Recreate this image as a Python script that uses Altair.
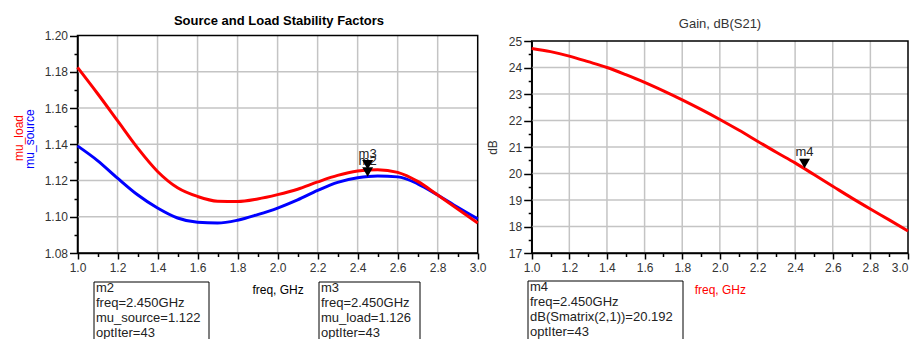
import altair as alt
import pandas as pd

# ---------------- data ----------------
freq = [1.0, 1.1, 1.2, 1.3, 1.4, 1.5, 1.6, 1.7, 1.8, 1.9, 2.0,
        2.1, 2.2, 2.3, 2.4, 2.5, 2.6, 2.7, 2.8, 2.9, 3.0]
mu_load = [1.1824, 1.1680, 1.1530, 1.1380, 1.1250, 1.1160, 1.1112, 1.1086, 1.1084, 1.1098, 1.1122,
           1.1152, 1.1192, 1.1228, 1.1252, 1.1260, 1.1245, 1.1195, 1.1120, 1.1043, 1.0965]
mu_source = [1.1391, 1.1310, 1.1213, 1.1121, 1.1048, 1.0993, 1.0969, 1.0965, 1.0981, 1.1012, 1.1048,
             1.1093, 1.1145, 1.1190, 1.1215, 1.1225, 1.1220, 1.1182, 1.1120, 1.1052, 1.0988]
gain_db = [24.72, 24.60, 24.43, 24.22, 24.00, 23.73, 23.44, 23.12, 22.78, 22.42, 22.04,
           21.64, 21.22, 20.80, 20.40, 19.96, 19.52, 19.08, 18.66, 18.25, 17.83]

marker_names_left = ["m2", "m3"]
marker_freq_left = [2.45, 2.45]
marker_vals_left = [1.122, 1.126]
marker_names_right = ["m4"]
marker_freq_right = [2.45]
marker_vals_right = [20.192]

box_m2 = ["m2", "freq=2.450GHz", "mu_source=1.122", "optIter=43"]
box_m3 = ["m3", "freq=2.450GHz", "mu_load=1.126", "optIter=43"]
box_m4 = ["m4", "freq=2.450GHz", "dB(Smatrix(2,1))=20.192", "optIter=43"]

x_major = [1.0, 1.2, 1.4, 1.6, 1.8, 2.0, 2.2, 2.4, 2.6, 2.8, 3.0]
x_minor = [1.1, 1.3, 1.5, 1.7, 1.9, 2.1, 2.3, 2.5, 2.7, 2.9]
x_grid = [1.2, 1.4, 1.6, 1.8, 2.0, 2.2, 2.4, 2.6, 2.8]
left_y_major = [1.08, 1.10, 1.12, 1.14, 1.16, 1.18, 1.20]
left_y_minor = [1.09, 1.11, 1.13, 1.15, 1.17, 1.19]
left_y_grid = [1.10, 1.12, 1.14, 1.16, 1.18]
right_y_major = [17, 18, 19, 20, 21, 22, 23, 24, 25]
right_y_minor = [17.5, 18.5, 19.5, 20.5, 21.5, 22.5, 23.5, 24.5]
right_y_grid = [18, 19, 20, 21, 22, 23, 24]

# ---------------- style ----------------
FONT = "Liberation Sans"
LBL = "#333333"
GRID = "#c4c4c4"
W, H = 902, 245

xsL = alt.Scale(domain=[1.0, 3.0], range=[69.5, 469.7], nice=False, zero=False)
ysL = alt.Scale(domain=[1.08, 1.20], range=[245, 27.5], nice=False, zero=False)
xsR = alt.Scale(domain=[1.0, 3.0], range=[523.7, 900], nice=False, zero=False)
ysR = alt.Scale(domain=[17, 25], range=[245, 33], nice=False, zero=False)


def major_x_axis(title_color, flush_last=False):
    extra = {}
    if flush_last:
        extra["labelAlign"] = {"condition": {"test": "datum.value >= 2.99", "value": "right"},
                               "value": "center"}
    return alt.Axis(
        orient="bottom", values=x_major, grid=False, format=".1f",
        tickSize=6, tickColor="black", tickWidth=1.5, domainColor="black", domainWidth=1.5,
        labelFont=FONT, labelFontSize=12, labelColor=LBL, labelPadding=3,
        labelOverlap=False, labelFlush=False,
        title="freq, GHz", titleFont=FONT, titleFontSize=12, titleFontWeight="normal",
        titleColor=title_color, titlePadding=11, **extra)


def minor_axis(orient, vals, offset):
    return alt.Axis(orient=orient, values=vals, grid=False, labels=False, domain=False,
                    tickSize=3.5, tickColor="black", tickWidth=1.5, offset=offset, title=None)


def major_y_axis(vals, fmt, offset, title):
    kw = dict(title=title, titleFont=FONT, titleFontSize=12, titleFontWeight="normal",
              titleColor=LBL, titlePadding=9) if title else dict(title=None)
    return alt.Axis(
        orient="left", values=vals, grid=False, offset=offset, format=fmt,
        tickSize=8, tickColor="black", tickWidth=1.5, domainColor="black", domainWidth=1.5,
        labelFont=FONT, labelFontSize=12, labelColor=LBL, labelPadding=2,
        labelOverlap=False, labelFlush=False, **kw)


# ---------------- tables ----------------
df_left = pd.DataFrame({"freq": freq, "mu_load": mu_load, "mu_source": mu_source})
df_right = pd.DataFrame({"freq": freq, "gain": gain_db})
vgrid = pd.DataFrame({"x": x_grid})
hgridL = pd.DataFrame({"y": left_y_grid})
hgridR = pd.DataFrame({"y": right_y_grid})
one = pd.DataFrame({"k": [0]})
mk_left = pd.DataFrame({"name": marker_names_left, "freq": marker_freq_left, "val": marker_vals_left})
mk_right = pd.DataFrame({"name": marker_names_right, "freq": marker_freq_right, "val": marker_vals_right})


def grid_layers(xs, ys, ydom, hdf, x_minor_axis, y_minor_axis):
    vg = alt.Chart(vgrid).mark_rule(color=GRID, strokeWidth=1.5).encode(
        x=alt.X("x:Q", scale=xs, axis=x_minor_axis),
        y=alt.Y(datum=ydom[0], scale=ys, axis=None),
        y2=alt.Y2(datum=ydom[1]))
    hg = alt.Chart(hdf).mark_rule(color=GRID, strokeWidth=1.5).encode(
        y=alt.Y("y:Q", scale=ys, axis=y_minor_axis),
        x=alt.X(datum=1.0, scale=xs, axis=None),
        x2=alt.X2(datum=3.0))
    return vg, hg


def frame_layer(xs, ys, ydom):
    return alt.Chart(one).mark_rect(filled=False, color="black", strokeWidth=1.5).encode(
        x=alt.X(datum=1.0, scale=xs, axis=None, type="quantitative"),
        x2=alt.X2(datum=3.0),
        y=alt.Y(datum=ydom[0], scale=ys, axis=None, type="quantitative"),
        y2=alt.Y2(datum=ydom[1]))


def pix_text(txt, x, y, **kw):
    return alt.Chart(one).mark_text(font=FONT, **kw).encode(
        x=alt.value(x), y=alt.value(y), text=alt.value(txt))


def box(lines, x0, x1, y0):
    rect = alt.Chart(one).mark_rect(filled=False, color="black", strokeWidth=1).encode(
        x=alt.value(x0), x2=alt.value(x1), y=alt.value(y0), y2=alt.value(y0 + 80))
    txt = alt.Chart(one).mark_text(font=FONT, fontSize=13, align="left", baseline="alphabetic",
                                   lineHeight=15, color="#222222").encode(
        x=alt.value(x0 + 2), y=alt.value(y0 + 10), text=alt.value(lines))
    return rect, txt


def marker_layers(df, xs, ys):
    lab = alt.Chart(df).mark_text(font=FONT, fontSize=13, color="#222222", dy=-12,
                                  baseline="alphabetic").encode(
        x=alt.X("freq:Q", scale=xs, axis=None), y=alt.Y("val:Q", scale=ys, axis=None), text="name:N")
    tri = alt.Chart(df).mark_point(shape="triangle-down", filled=True, color="black", opacity=1,
                                   size=120, yOffset=-4.8).encode(
        x=alt.X("freq:Q", scale=xs, axis=None), y=alt.Y("val:Q", scale=ys, axis=None))
    return lab, tri


# ---------------- left panel ----------------
vgL, hgL = grid_layers(xsL, ysL, [1.08, 1.20], hgridL,
                       minor_axis("bottom", x_minor, 0), minor_axis("left", left_y_minor, -69.5))
frameL = frame_layer(xsL, ysL, [1.08, 1.20])
blue = alt.Chart(df_left).mark_line(color="#0000ff", strokeWidth=3, interpolate="monotone").encode(
    x=alt.X("freq:Q", scale=xsL, axis=major_x_axis("black")),
    y=alt.Y("mu_source:Q", scale=ysL, axis=major_y_axis(left_y_major, ".2f", -69.5, None)))
red = alt.Chart(df_left).mark_line(color="#ff0000", strokeWidth=3, interpolate="monotone").encode(
    x=alt.X("freq:Q", scale=xsL, axis=None), y=alt.Y("mu_load:Q", scale=ysL, axis=None))
labL, triL = marker_layers(mk_left, xsL, ysL)
titleL = pix_text("Source and Load Stability Factors", 271, 12.5, fontSize=13, fontWeight="bold",
                  color="black", align="center", baseline="middle")
ylab1 = pix_text("mu_load", 10.5, 130, fontSize=12, color="#ff0000", angle=270,
                 align="center", baseline="middle")
ylab2 = pix_text("mu_source", 22, 131, fontSize=12, color="#0000ff", angle=270,
                 align="center", baseline="middle")
rb2, tb2 = box(box_m2, 86, 201, 274)
rb3, tb3 = box(box_m3, 311, 412, 274)

left = alt.layer(vgL, hgL, frameL, blue, red, labL, triL, titleL, ylab1, ylab2,
                 rb2, tb2, rb3, tb3).resolve_axis(x="independent", y="independent")

# ---------------- right panel ----------------
vgR, hgR = grid_layers(xsR, ysR, [17, 25], hgridR,
                       minor_axis("bottom", x_minor, 0), minor_axis("left", right_y_minor, -523.7))
frameR = frame_layer(xsR, ysR, [17, 25])
gline = alt.Chart(df_right).mark_line(color="#ff0000", strokeWidth=3, interpolate="monotone").encode(
    x=alt.X("freq:Q", scale=xsR, axis=major_x_axis("#ff0000", flush_last=True)),
    y=alt.Y("gain:Q", scale=ysR, axis=major_y_axis(right_y_major, "d", -523.7, "dB")))
labR, triR = marker_layers(mk_right, xsR, ysR)
titleR = pix_text("Gain, dB(S21)", 712, 16, fontSize=13, color="#333333",
                  align="center", baseline="middle")
rb4, tb4 = box(box_m4, 520, 675, 273)

right = alt.layer(vgR, hgR, frameR, gline, labR, triR, titleR,
                  rb4, tb4).resolve_axis(x="independent", y="independent")

chart = alt.layer(left, right).resolve_scale(x="independent", y="independent").properties(
    width=W, height=H,
    autosize=alt.AutoSizeParams(type="none"),
    padding={"left": 0, "top": 0, "right": 0, "bottom": 86},
).configure_view(strokeWidth=0)

chart.save("out.html", embed_options={"renderer": "svg", "actions": False})
